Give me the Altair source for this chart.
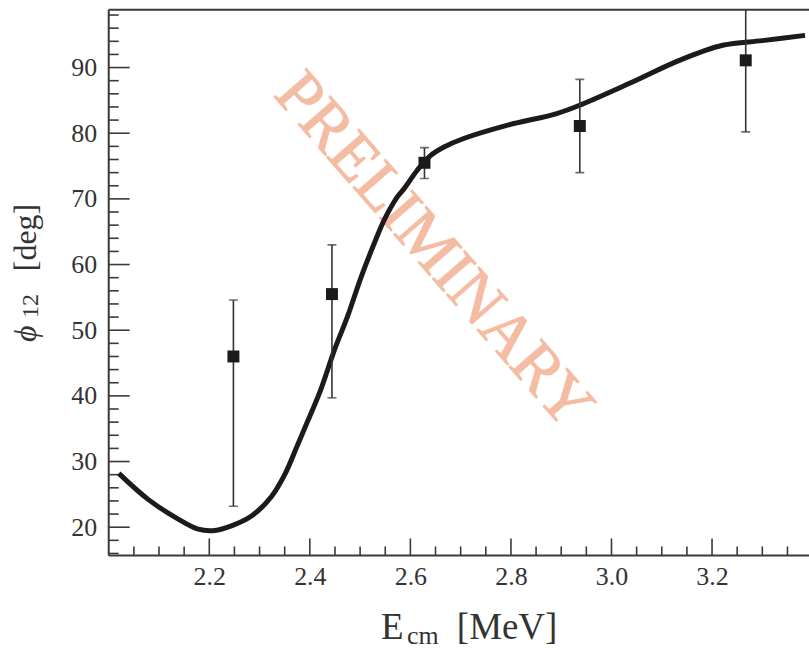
import altair as alt
import pandas as pd

# ---- data ----
curve_E = [2.020, 2.079, 2.139, 2.178, 2.211, 2.244, 2.284, 2.323, 2.350, 2.376,
           2.396, 2.422, 2.449, 2.475, 2.502, 2.528, 2.548, 2.574, 2.588, 2.614,
           2.640, 2.667, 2.706, 2.792, 2.891, 2.941, 3.036, 3.135, 3.221, 3.300, 3.385]
curve_phi = [28.2, 24.2, 21.2, 19.7, 19.5, 20.2, 21.7, 24.6, 28.0, 32.6,
             36.2, 41.0, 47.0, 52.1, 58.1, 63.2, 66.8, 70.3, 71.6, 74.4,
             76.6, 77.9, 79.2, 81.2, 83.0, 84.4, 87.6, 91.1, 93.4, 94.1, 94.9]

data_E = [2.248, 2.444, 2.628, 2.937, 3.267]
data_phi = [46.0, 55.5, 75.5, 81.1, 91.1]
err_lo = [23.2, 39.7, 73.1, 74.0, 80.2]
err_hi = [54.6, 63.0, 77.8, 88.2, 102.0]

y_major = [20, 30, 40, 50, 60, 70, 80, 90]
y_minor = [16, 18, 22, 24, 26, 28, 32, 34, 36, 38, 42, 44, 46, 48, 52, 54, 56, 58,
           62, 64, 66, 68, 72, 74, 76, 78, 82, 84, 86, 88, 92, 94, 96, 98]
x_major = [2.2, 2.4, 2.6, 2.8, 3.0, 3.2]
x_minor = [2.05, 2.10, 2.15, 2.25, 2.30, 2.35, 2.45, 2.50, 2.55, 2.65, 2.70, 2.75,
           2.85, 2.90, 2.95, 3.05, 3.10, 3.15, 3.25, 3.30, 3.35]

W, H = 702, 547
X_DOM = [2.0, 2.0 + W / 504.0]
Y_DOM = [15.7, 98.8]
FONT = "Liberation Serif"
AX = "#3a3a3a"
INK = "#1c1a1a"

xs = alt.Scale(domain=X_DOM, nice=False, zero=False)
ys = alt.Scale(domain=Y_DOM, nice=False, zero=False)

curve_df = pd.DataFrame({"E": curve_E, "phi": curve_phi})
pts_df = pd.DataFrame({"E": data_E, "phi": data_phi, "lo": err_lo, "hi": err_hi})
ymaj_df = pd.DataFrame({"v": y_major})
ymin_df = pd.DataFrame({"v": y_minor})
xmaj_df = pd.DataFrame({"v": x_major})
xmin_df = pd.DataFrame({"v": x_minor})

xaxis = alt.Axis(values=x_major, format=".1f", domain=False, ticks=False, tickSize=0,
                 grid=False, labelFont=FONT, labelFontSize=26, labelColor="#333333",
                 labelPadding=8, title=None)
yaxis = alt.Axis(values=y_major, domain=False, ticks=False, tickSize=0, grid=False,
                 labelFont=FONT, labelFontSize=26, labelColor="#333333",
                 labelPadding=12, title=None)

# watermark
watermark = alt.Chart(pd.DataFrame({"t": ["PRELIMINARY"]})).mark_text(
    font=FONT, fontSize=66, color="#f4bca3", angle=49, align="center", baseline="middle",
    stroke="#f4bca3", strokeWidth=1
).encode(x=alt.value(326), y=alt.value(241), text="t:N")

# axes carrier (labels)
axes_layer = alt.Chart(curve_df).mark_point(opacity=0).encode(
    x=alt.X("E:Q", scale=xs, axis=xaxis),
    y=alt.Y("phi:Q", scale=ys, axis=yaxis),
)

# frame (left, bottom, top)
frame = alt.Chart(pd.DataFrame({"k": [0]})).mark_rule(color=AX, strokeWidth=2).encode(
    x=alt.value(0), x2=alt.value(0), y=alt.value(0), y2=alt.value(H))
frame_b = alt.Chart(pd.DataFrame({"k": [0]})).mark_rule(color=AX, strokeWidth=2).encode(
    x=alt.value(0), x2=alt.value(W), y=alt.value(H), y2=alt.value(H))
frame_t = alt.Chart(pd.DataFrame({"k": [0]})).mark_rule(color=AX, strokeWidth=2).encode(
    x=alt.value(0), x2=alt.value(W), y=alt.value(0), y2=alt.value(0))

ymaj = alt.Chart(ymaj_df).mark_rule(color=AX, strokeWidth=1.6).encode(
    y=alt.Y("v:Q", scale=ys), x=alt.value(0), x2=alt.value(21))
ymin = alt.Chart(ymin_df).mark_rule(color=AX, strokeWidth=1.6).encode(
    y=alt.Y("v:Q", scale=ys), x=alt.value(0), x2=alt.value(10))
xmaj = alt.Chart(xmaj_df).mark_rule(color=AX, strokeWidth=1.6).encode(
    x=alt.X("v:Q", scale=xs), y=alt.value(H), y2=alt.value(H - 17))
xmin = alt.Chart(xmin_df).mark_rule(color=AX, strokeWidth=1.6).encode(
    x=alt.X("v:Q", scale=xs), y=alt.value(H), y2=alt.value(H - 9))

curve = alt.Chart(curve_df).mark_line(color=INK, strokeWidth=5, interpolate="catmull-rom",
                                      clip=True).encode(
    x=alt.X("E:Q", scale=xs), y=alt.Y("phi:Q", scale=ys))

bars = alt.Chart(pts_df).mark_rule(color="#333333", strokeWidth=1.6, clip=True).encode(
    x=alt.X("E:Q", scale=xs), y=alt.Y("lo:Q", scale=ys), y2="hi:Q")
cap_lo = alt.Chart(pts_df).mark_tick(color="#333333", orient="horizontal", size=9,
                                     thickness=1.6, clip=True).encode(
    x=alt.X("E:Q", scale=xs), y=alt.Y("lo:Q", scale=ys))
cap_hi = alt.Chart(pts_df).mark_tick(color="#333333", orient="horizontal", size=9,
                                     thickness=1.6, clip=True).encode(
    x=alt.X("E:Q", scale=xs), y=alt.Y("hi:Q", scale=ys))
squares = alt.Chart(pts_df).mark_square(color=INK, size=144, opacity=1).encode(
    x=alt.X("E:Q", scale=xs), y=alt.Y("phi:Q", scale=ys))

# axis titles as text
def txt(s, x, y, size, angle=0, baseline="alphabetic", style="normal"):
    return alt.Chart(pd.DataFrame({"t": [s]})).mark_text(
        font=FONT, fontSize=size, color="#333333", align="left", baseline=baseline,
        angle=angle, fontStyle=style
    ).encode(x=alt.value(x), y=alt.value(y), text="t:N")

xt = [txt("E", 273, 631, 37), txt("cm", 299, 636, 26), txt("[MeV]", 349, 631, 37)]
yt = [txt("\u03d5", -73, 333, 32, angle=270, style="italic"),
      txt("12", -71, 309, 24, angle=270),
      txt("[deg]", -73, 262, 32, angle=270)]

chart = alt.layer(
    watermark, axes_layer, ymaj, ymin, xmaj, xmin, frame, frame_b, frame_t,
    curve, bars, cap_lo, cap_hi, squares, *xt, *yt
).properties(
    width=W, height=H,
    background="white",
    autosize=alt.AutoSizeParams(type="none"),
    padding={"left": 109, "top": 9, "right": 0, "bottom": 94},
).configure_view(stroke=None)

chart.save("out.html", embed_options={"renderer": "svg", "actions": False})
